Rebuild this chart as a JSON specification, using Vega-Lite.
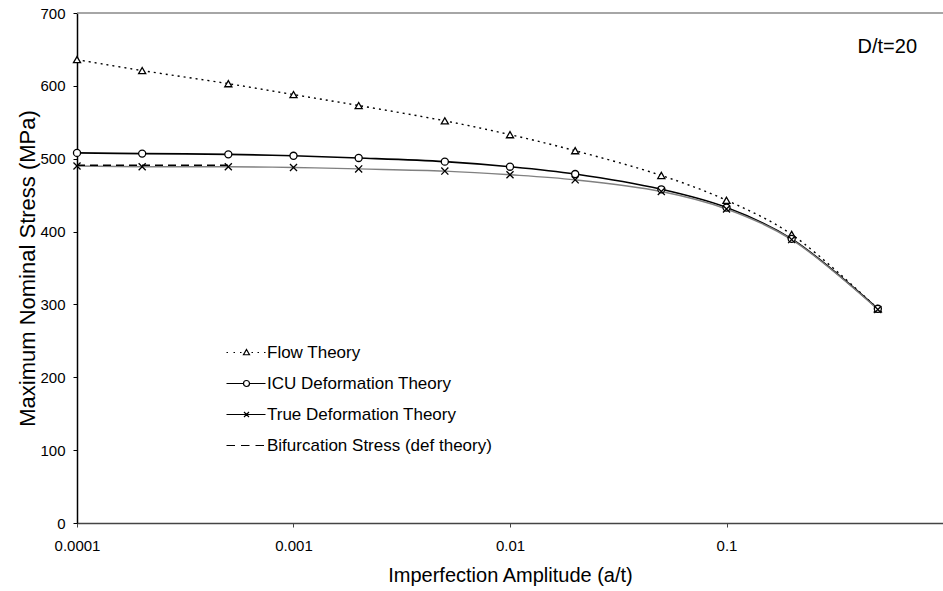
{
  "$schema": "https://vega.github.io/schema/vega-lite/v6.json",
  "width": 866,
  "height": 510,
  "autosize": {"type": "none"},
  "padding": {"left": 77, "top": 13, "right": 0, "bottom": 68},
  "background": "white",
  "config": {"view": {"stroke": null}, "font": "Liberation Sans"},
  "data": {"values": [
    {"series": "Flow Theory", "a": 0.0001, "s": 636},
    {"series": "Flow Theory", "a": 0.0002, "s": 621},
    {"series": "Flow Theory", "a": 0.0005, "s": 603},
    {"series": "Flow Theory", "a": 0.001, "s": 588},
    {"series": "Flow Theory", "a": 0.002, "s": 573},
    {"series": "Flow Theory", "a": 0.005, "s": 552},
    {"series": "Flow Theory", "a": 0.01, "s": 533},
    {"series": "Flow Theory", "a": 0.02, "s": 511},
    {"series": "Flow Theory", "a": 0.05, "s": 477},
    {"series": "Flow Theory", "a": 0.1, "s": 443},
    {"series": "Flow Theory", "a": 0.2, "s": 396},
    {"series": "Flow Theory", "a": 0.5, "s": 294},
    {"series": "ICU Deformation Theory", "a": 0.0001, "s": 508},
    {"series": "ICU Deformation Theory", "a": 0.0002, "s": 507},
    {"series": "ICU Deformation Theory", "a": 0.0005, "s": 506},
    {"series": "ICU Deformation Theory", "a": 0.001, "s": 504},
    {"series": "ICU Deformation Theory", "a": 0.002, "s": 501},
    {"series": "ICU Deformation Theory", "a": 0.005, "s": 496},
    {"series": "ICU Deformation Theory", "a": 0.01, "s": 489},
    {"series": "ICU Deformation Theory", "a": 0.02, "s": 479},
    {"series": "ICU Deformation Theory", "a": 0.05, "s": 458},
    {"series": "ICU Deformation Theory", "a": 0.1, "s": 433},
    {"series": "ICU Deformation Theory", "a": 0.2, "s": 390},
    {"series": "ICU Deformation Theory", "a": 0.5, "s": 294},
    {"series": "True Deformation Theory", "a": 0.0001, "s": 490},
    {"series": "True Deformation Theory", "a": 0.0002, "s": 489},
    {"series": "True Deformation Theory", "a": 0.0005, "s": 489},
    {"series": "True Deformation Theory", "a": 0.001, "s": 488},
    {"series": "True Deformation Theory", "a": 0.002, "s": 486},
    {"series": "True Deformation Theory", "a": 0.005, "s": 483},
    {"series": "True Deformation Theory", "a": 0.01, "s": 478},
    {"series": "True Deformation Theory", "a": 0.02, "s": 471},
    {"series": "True Deformation Theory", "a": 0.05, "s": 455},
    {"series": "True Deformation Theory", "a": 0.1, "s": 431},
    {"series": "True Deformation Theory", "a": 0.2, "s": 389},
    {"series": "True Deformation Theory", "a": 0.5, "s": 293},
    {"series": "Bifurcation Stress (def theory)", "a": 0.0001, "s": 491},
    {"series": "Bifurcation Stress (def theory)", "a": 0.0005, "s": 491}
  ]},
  "resolve": {"scale": {"shape": "independent"}, "legend": {"shape": "independent"}},
  "layer": [
    {
      "data": {"values": [{"top": 700}]},
      "mark": {"type": "rule", "stroke": "#888", "strokeWidth": 1.5},
      "encoding": {"y": {"field": "top", "type": "quantitative"}}
    },
    {
      "transform": [{"filter": "datum.series == 'Flow Theory'"}],
      "mark": {"type": "line", "interpolate": "catmull-rom", "stroke": "black", "strokeWidth": 1.4, "strokeDash": [2, 4]},
      "encoding": {
        "x": {"field": "a", "type": "quantitative",
          "scale": {"type": "log", "domain": [0.0001, 1], "nice": false},
          "axis": {"title": "Imperfection Amplitude  (a/t)", "values": [0.0001, 0.001, 0.01, 0.1], "format": "~g",
            "labelExpr": "datum.value < 0.0005 ? '0.0001' : datum.value < 0.005 ? '0.001' : datum.value < 0.05 ? '0.01' : '0.1'",
            "grid": false, "domainColor": "#444", "domainWidth": 1.5, "tickColor": "#444", "tickSize": 4,
            "labelFontSize": 15, "labelColor": "black", "labelPadding": 11, "labelFlush": false,
            "titleFontSize": 20, "titleFontWeight": "normal", "titleColor": "black", "titlePadding": 12}},
        "y": {"field": "s", "type": "quantitative",
          "scale": {"domain": [0, 700], "nice": false, "zero": true},
          "axis": {"title": "Maximum Nominal Stress (MPa)", "values": [0, 100, 200, 300, 400, 500, 600, 700],
            "grid": false, "domainColor": "black", "domainWidth": 1.5, "tickColor": "black", "tickSize": 4,
            "labelFontSize": 15, "labelColor": "black", "labelPadding": 8,
            "titleFontSize": 22, "titleFontWeight": "normal", "titleColor": "black", "titleX": -38, "titleBaseline": "bottom"}}
      }
    },
    {
      "transform": [{"filter": "datum.series == 'ICU Deformation Theory'"}],
      "mark": {"type": "line", "interpolate": "catmull-rom", "stroke": "black", "strokeWidth": 1.6},
      "encoding": {"x": {"field": "a", "type": "quantitative"}, "y": {"field": "s", "type": "quantitative"}}
    },
    {
      "transform": [{"filter": "datum.series == 'True Deformation Theory'"}],
      "mark": {"type": "line", "interpolate": "catmull-rom", "stroke": "#808080", "strokeWidth": 1.4},
      "encoding": {"x": {"field": "a", "type": "quantitative"}, "y": {"field": "s", "type": "quantitative"}}
    },
    {
      "transform": [{"filter": "datum.series == 'Bifurcation Stress (def theory)'"}],
      "mark": {"type": "line", "stroke": "black", "strokeWidth": 1.3, "strokeDash": [8, 5]},
      "encoding": {"x": {"field": "a", "type": "quantitative"}, "y": {"field": "s", "type": "quantitative"}}
    },
    {
      "transform": [{"filter": "datum.series != 'Bifurcation Stress (def theory)'"}],
      "mark": {"type": "point", "filled": true, "fill": "white", "stroke": "black", "strokeWidth": 1.3, "size": 50, "opacity": 1},
      "encoding": {
        "x": {"field": "a", "type": "quantitative"},
        "y": {"field": "s", "type": "quantitative"},
        "shape": {"field": "series", "type": "nominal", "legend": null,
          "scale": {"domain": ["Flow Theory", "ICU Deformation Theory", "True Deformation Theory", "Bifurcation Stress (def theory)"],
            "range": ["triangle-up", "circle", "M-1,-1L1,1M-1,1L1,-1", "circle"]}}
      }
    },
    {
      "mark": {"type": "point", "filled": false, "stroke": "black", "size": 100, "opacity": 0},
      "encoding": {
        "x": {"field": "a", "type": "quantitative"},
        "y": {"field": "s", "type": "quantitative"},
        "shape": {"field": "series", "type": "nominal",
          "scale": {"domain": ["Flow Theory", "ICU Deformation Theory", "True Deformation Theory", "Bifurcation Stress (def theory)"],
            "range": [
              "M-1,0L-0.7,0M0.4,0L0.7,0M1.7,0L2,0M3,-0.6L3.6,0.45L2.4,0.45ZM4,0L4.3,0M5.2,0L5.5,0M6.5,0L6.8,0",
              "M-1,0L2.4,0M3.6,0L6.8,0M2.4,0A0.6,0.6 0 1,0 3.6,0A0.6,0.6 0 1,0 2.4,0",
              "M-1,0L6.8,0M2.5,-0.5L3.5,0.5M2.5,0.5L3.5,-0.5",
              "M-1,0L0.7,0M1.9,0L3.6,0M4.8,0L6.5,0"
            ]},
          "legend": {"title": null, "orient": "none", "legendX": 146, "legendY": 331, "padding": 0,
            "symbolSize": 100, "symbolOpacity": 1, "symbolStrokeColor": "black", "symbolStrokeWidth": 1.2,
            "labelFontSize": 17, "labelColor": "black", "labelOffset": 27, "rowPadding": 13, "labelLimit": 400}}
      }
    },
    {
      "data": {"values": [{"label": "D/t=20"}]},
      "mark": {"type": "text", "fontSize": 20, "align": "center", "baseline": "middle", "fill": "black"},
      "encoding": {
        "x": {"datum": 0.553, "type": "quantitative"},
        "y": {"datum": 653, "type": "quantitative"},
        "text": {"field": "label"}
      }
    }
  ]
}
